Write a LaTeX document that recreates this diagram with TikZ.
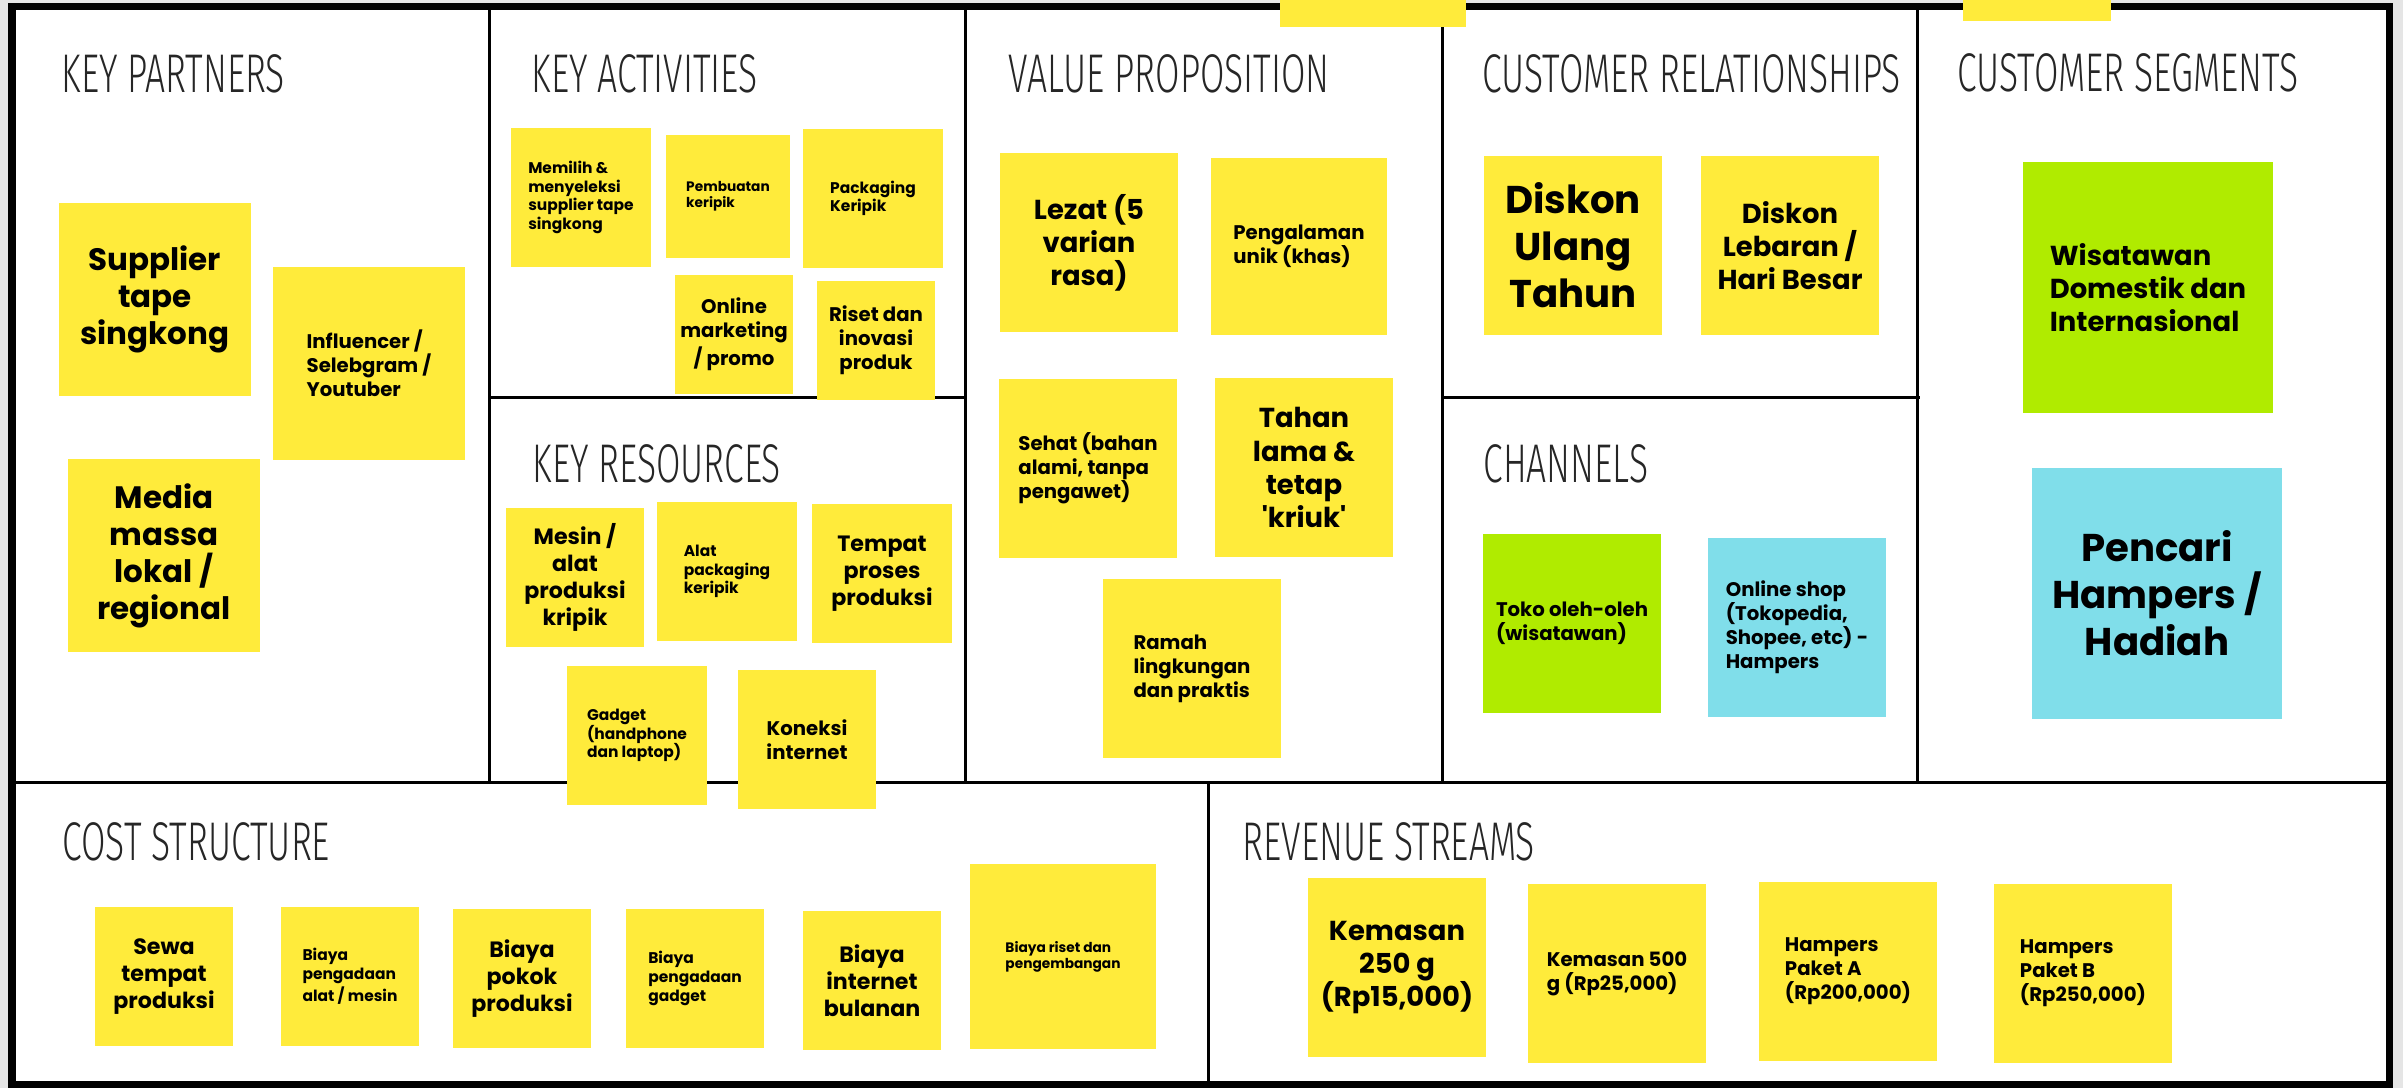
\documentclass[tikz,border=0pt]{standalone}
\usepackage{fontspec}
\usepackage{tikz}
\usetikzlibrary{positioning}
\newfontfamily\notefont{Poppins}
\newfontfamily\headfont[FakeStretch=0.65]{Fira Sans Light}
\definecolor{postit}{HTML}{FFEB3B}
\definecolor{notegreen}{HTML}{B0EB00}
\definecolor{notecyan}{HTML}{80DEEA}

\tikzset{
  note/.style={fill=postit, inner sep=0pt, text=black},
  head/.style={anchor=base west, inner sep=0pt, text=black!85, font=\headfont\fontsize{15.5}{18}\selectfont},
  txtXS/.style={font=\notefont\bfseries\fontsize{3.9}{4.6}\selectfont},
  txtS/.style={font=\notefont\bfseries\fontsize{4.4}{5.3}\selectfont},
  txtM/.style={font=\notefont\bfseries\fontsize{5.6}{6.8}\selectfont},
  txtL/.style={font=\notefont\bfseries\fontsize{6.3}{7.6}\selectfont},
  txtXL/.style={font=\notefont\bfseries\fontsize{7.8}{9.4}\selectfont},
  txtBig/.style={font=\notefont\bfseries\fontsize{8.8}{10.5}\selectfont},
  txtHuge/.style={font=\notefont\bfseries\fontsize{11}{13.4}\selectfont}
}

\begin{document}
\begin{tikzpicture}[x=0.01cm,y=-0.01cm]
  % canvas and grid
  \fill[black!10] (0,0) rectangle (2403,1087);
  \fill[white] (12,6) rectangle (2389,1084);
  \draw[line width=0.03cm] (12,782) -- (2389,782);
  \draw[line width=0.03cm] (489,6) -- (489,782) (965,6) -- (965,782)
    (1442,6) -- (1442,782) (1917,6) -- (1917,782);
  \draw[line width=0.03cm] (489,397) -- (965,397) (1442,397) -- (1920,397);
  \draw[line width=0.03cm] (1208,782) -- (1208,1084);
  \draw[line width=0.07cm] (12,6) rectangle (2389,1084);

  % section titles
  \node[head] (kp) at (61,92) {KEY PARTNERS};
  \node[head] (ka) at (531,92) {KEY ACTIVITIES};
  \node[head] (kr) at (532,482) {KEY RESOURCES};
  \node[head] (vp) at (1008,92) {VALUE PROPOSITION};
  \node[head] (cr) at (1482,92) {CUSTOMER RELATIONSHIPS};
  \node[head] (cs) at (1957,91) {CUSTOMER SEGMENTS};
  \node[head] (ch) at (1483,482) {CHANNELS};
  \node[head] (cost) at (62,860) {COST STRUCTURE};
  \node[head] (rev) at (1242,860) {REVENUE STREAMS};

  % key partners
  \node[note, txtBig, align=center, minimum size=1.92cm] (sup) at (155,299) {Supplier\\tape\\singkong};
  \node[note, txtM, align=left, minimum size=1.92cm] (inf) at (369,363) {Influencer /\\Selebgram /\\Youtuber};
  \node[note, txtBig, align=center, minimum size=1.92cm] (med) at (164,555) {Media\\massa\\lokal /\\regional};

  % key activities
  \node[note, txtS, align=left, minimum size=1.39cm] (mem) at (581,197) {Memilih \&\\menyeleksi\\supplier tape\\singkong};
  \node[note, txtXS, align=left, minimum size=1.23cm] (pemb) at (728,196) {Pembuatan\\keripik};
  \node[note, txtS, align=left, minimum size=1.39cm] (pack) at (873,198) {Packaging\\Keripik};
  \node[note, txtM, align=center, minimum size=1.18cm] (onl) at (734,334) {Online\\marketing\\/ promo};
  \node[note, txtM, align=center, minimum size=1.18cm] (ris) at (876,340) {Riset dan\\inovasi\\produk};

  % key resources
  \node[note, txtL, align=center, minimum size=1.38cm] (mes) at (575,577) {Mesin /\\alat\\produksi\\kripik};
  \node[note, txtS, align=left, minimum size=1.39cm] (alat) at (727,571) {Alat\\packaging\\keripik};
  \node[note, txtL, align=center, minimum size=1.39cm] (tmp) at (882,573) {Tempat\\proses\\produksi};
  \node[note, txtS, align=left, minimum size=1.39cm] (gad) at (637,735) {Gadget\\(handphone\\dan laptop)};
  \node[note, txtM, align=center, minimum size=1.38cm] (kon) at (807,739) {Koneksi\\internet};

  % value proposition
  \node[note, txtXL, align=center, minimum size=1.78cm] (lez) at (1089,242) {Lezat (5\\varian\\rasa)};
  \node[note, txtM, align=left, minimum size=1.76cm] (peng) at (1299,246) {Pengalaman\\unik (khas)};
  \node[note, txtM, align=left, minimum size=1.78cm] (seh) at (1088,468) {Sehat (bahan\\alami, tanpa\\pengawet)};
  \node[note, txtXL, align=center, minimum size=1.78cm] (tah) at (1304,467) {Tahan\\lama \&\\tetap\\\textquotesingle kriuk\textquotesingle};
  \node[note, txtM, align=left, minimum size=1.78cm] (ram) at (1192,668) {Ramah\\lingkungan\\dan praktis};

  % customer relationships
  \node[note, txtHuge, align=center, minimum size=1.78cm] (dut) at (1573,245) {Diskon\\Ulang\\Tahun};
  \node[note, txtXL, align=center, minimum size=1.78cm] (dleb) at (1790,245) {Diskon\\Lebaran /\\Hari Besar};

  % channels
  \node[note, fill=notegreen, txtM, align=left, minimum size=1.78cm] (toko) at (1572,623) {Toko oleh-oleh\\(wisatawan)};
  \node[note, fill=notecyan, txtM, align=left, minimum size=1.78cm] (ols) at (1797,627) {Online shop\\(Tokopedia,\\Shopee, etc) -\\Hampers};

  % customer segments
  \node[note, fill=notegreen, txtXL, align=left, minimum size=2.5cm] (wis) at (2148,287) {Wisatawan\\Domestik dan\\Internasional};
  \node[note, fill=notecyan, txtHuge, align=center, minimum size=2.5cm] (pen) at (2157,593) {Pencari\\Hampers /\\Hadiah};

  % cost structure
  \node[note, txtL, align=center, minimum size=1.38cm] (sewa) at (164,976) {Sewa\\tempat\\produksi};
  \node[note, txtS, align=left, minimum size=1.38cm] (bpa) at (350,976) {Biaya\\pengadaan\\alat / mesin};
  \node[note, txtL, align=center, minimum size=1.38cm] (bpok) at (522,978) {Biaya\\pokok\\produksi};
  \node[note, txtS, align=left, minimum size=1.38cm] (bpg) at (695,978) {Biaya\\pengadaan\\gadget};
  \node[note, txtL, align=center, minimum size=1.38cm] (bint) at (872,980) {Biaya\\internet\\bulanan};
  \node[note, txtXS, align=left, minimum size=1.85cm] (bris) at (1063,956) {Biaya riset dan\\pengembangan};

  % revenue streams
  \node[note, txtXL, align=center, minimum size=1.78cm] (k250) at (1397,967) {Kemasan\\250 g\\(Rp15,000)};
  \node[note, txtM, align=left, minimum size=1.78cm] (k500) at (1617,973) {Kemasan 500\\g (Rp25,000)};
  \node[note, txtM, align=left, minimum size=1.78cm] (ha) at (1848,971) {Hampers\\Paket A\\(Rp200,000)};
  \node[note, txtM, align=left, minimum size=1.78cm] (hb) at (2083,973) {Hampers\\Paket B\\(Rp250,000)};

  % notes cut off at the top edge
  \node[note, minimum width=1.85cm, minimum height=0.27cm] (topa) at (1373,13) {};
  \node[note, minimum width=1.48cm, minimum height=0.21cm] (topb) at (2037,10) {};
\end{tikzpicture}
\end{document}
